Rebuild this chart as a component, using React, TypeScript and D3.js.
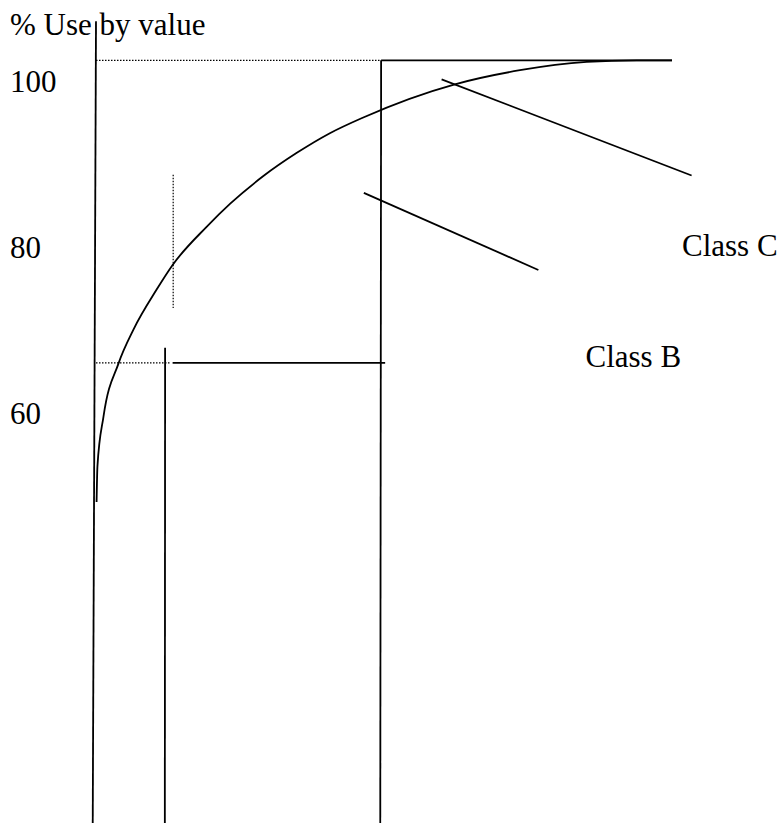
import React from 'react';
import * as d3 from 'd3';

// cumulative % of value against % of items (hand-sketched ABC curve)
const itemPct = [0.1, 0.25, 1.3, 3.9, 6.5, 10.5, 13.3, 19.2, 23.3, 29.0, 34.8, 40.6, 46.4, 62.3, 73.6, 85.2, 93.9, 100];
const valuePct = [49.2, 53.5, 59.5, 65.9, 70.0, 74.8, 77.8, 82.4, 85.2, 88.5, 91.3, 93.7, 95.6, 99.6, 101.3, 102.3, 102.5, 102.5];

const yTicks = [100, 80, 60];
const classNames = ['Class C', 'Class B'];

// boundaries between classes
const boundaryA = 12;
const boundaryB = 49.5;
const levelA = 66;
const levelTop = 102.5;
const axisTop = 107.2;
const axisBottom = 10;

// pointer strokes from the labels towards the regions
const pointerC = [[60, 100.2], [103.4, 88.6]];
const pointerB = [[46.5, 86.5], [76.8, 77.2]];
const markerDotted = [[13.4, 88.7], [13.4, 72.6]];

export default function App() {
  const W = 781;
  const H = 823;

  const x = d3.scaleLinear().domain([0, 100]).range([96, 672]);
  const y = d3.scaleLinear().domain([60, 100]).range([412.5, 81]);

  const line = d3.line<[number, number]>()
    .x(d => x(d[0]))
    .y(d => y(d[1]))
    .curve(d3.curveMonotoneX);

  const pts: [number, number][] = itemPct.map((v, i) => [v, valuePct[i]]);

  const font = { fontFamily: '"Liberation Serif", "Times New Roman", serif', fontSize: 31 };
  const solid = { stroke: '#000', strokeWidth: 1.8, fill: 'none' };
  const dotted = { stroke: '#000', strokeWidth: 1.2, strokeDasharray: '1.5,1.5', fill: 'none' };

  return (
    <svg width={W} height={H} style={{ position: 'absolute', left: 0, top: 0, background: '#fff' }}>
      {/* y axis, drawn slightly slanted as in the sketch */}
      <line x1={x(0)} y1={y(axisTop)} x2={x(-0.57)} y2={y(axisBottom)} {...solid} />

      {/* class boundaries */}
      <line x1={x(0)} y1={y(levelTop)} x2={x(boundaryB)} y2={y(levelTop)} {...dotted} />
      <line x1={x(boundaryB)} y1={y(levelTop)} x2={x(100)} y2={y(levelTop)} {...solid} />
      <line x1={x(boundaryB)} y1={y(levelTop)} x2={x(boundaryB - 0.15)} y2={y(axisBottom)} {...solid} />

      <line x1={x(0)} y1={y(levelA)} x2={x(12.8)} y2={y(levelA)} {...dotted} />
      <line x1={x(13.3)} y1={y(levelA)} x2={x(boundaryB + 0.7)} y2={y(levelA)} {...solid} />
      <line x1={x(boundaryA)} y1={y(67.8)} x2={x(boundaryA - 0.05)} y2={y(axisBottom)} {...solid} />

      <line x1={x(markerDotted[0][0])} y1={y(markerDotted[0][1])} x2={x(markerDotted[1][0])} y2={y(markerDotted[1][1])} {...dotted} />

      {/* pointers */}
      {[pointerC, pointerB].map((p, i) => (
        <line key={i} x1={x(p[0][0])} y1={y(p[0][1])} x2={x(p[1][0])} y2={y(p[1][1])} {...solid} />
      ))}

      {/* cumulative curve */}
      <path d={line(pts) || ''} {...solid} />

      {/* labels */}
      <text x={10} y={35} {...font}>% Use by value</text>
      {yTicks.map(t => (
        <text key={t} x={10} y={y(t) + 11} {...font}>{t}</text>
      ))}
      <text x={682} y={256} {...font}>{classNames[0]}</text>
      <text x={585.5} y={366.7} {...font}>{classNames[1]}</text>
    </svg>
  );
}
